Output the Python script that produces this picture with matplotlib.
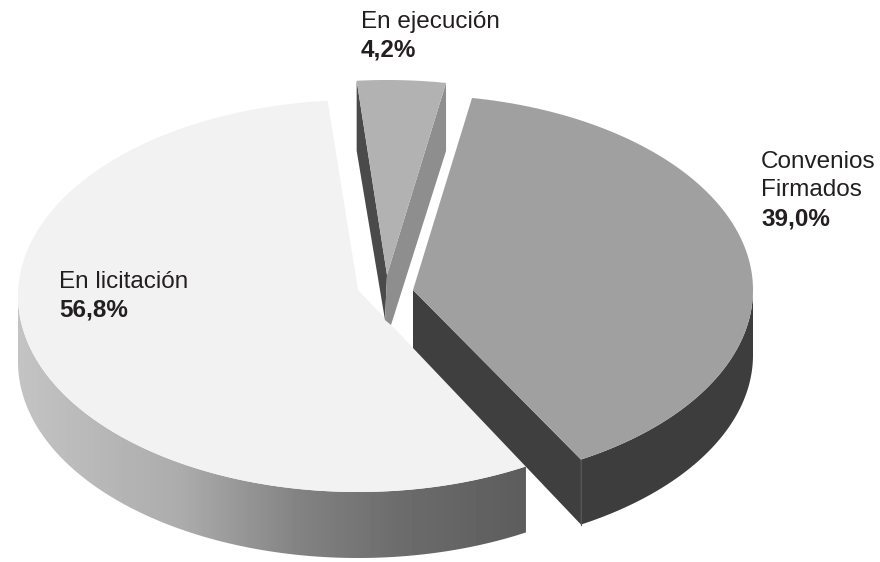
import numpy as np
import matplotlib
matplotlib.use("Agg")
import matplotlib.pyplot as plt
from matplotlib.patches import Polygon

plt.rcParams['font.family'] = ['Liberation Sans', 'DejaVu Sans']

# Slices, clockwise from the top
labels = ["Convenios\nFirmados", "En licitación", "En ejecución"]
values = [39.0, 56.8, 4.2]
value_labels = ["39,0%", "56,8%", "4,2%"]

START_ANGLE = 80.0
RX, RY = 340, 196
TEXT_COLOR = "#231f20"


# Points along the ellipse between two angles, in pixel coordinates
def arc(cx, cy, a0, a1, ry=RY):
    t = np.radians(np.linspace(a0, a1, 200))
    return np.column_stack([cx + RX * np.cos(t), cy - ry * np.sin(t)])


# Vertical gradient strip clipped to a polygon (for the curved wall)
def gradient_wall(ax, pts, stops_x, stops_gray):
    x = np.arange(0, 880)
    gray = np.interp(x, stops_x, stops_gray)
    img = ax.imshow(gray[np.newaxis, :], extent=(0, 880, 562, 0), cmap="gray",
                    vmin=0, vmax=255, aspect="auto", zorder=1)
    patch = Polygon(pts, closed=True, transform=ax.transData, fc="none", ec="none")
    ax.add_patch(patch)
    img.set_clip_path(patch)


fig = plt.figure(figsize=(8.8, 5.62), dpi=100)
ax = fig.add_axes([0, 0, 1, 1])

# Slice angles come straight from the values
sweeps = [v * 3.6 for v in values]
conv_a0, conv_a1 = START_ANGLE, START_ANGLE - sweeps[0]
lic_a0, lic_a1 = conv_a1, conv_a1 - sweeps[1]
eje_a0, eje_a1 = lic_a1, lic_a1 - sweeps[2]

# En licitación
cx, cy, depth = 358, 296, 66
rim = arc(cx, cy, -180, lic_a0)
wall = np.vstack([rim, rim[::-1] + [0, depth]])
gradient_wall(ax, wall, [18, 180, 300, 400, 528], [195, 172, 130, 108, 92])
top = np.vstack([[[358, 290]], arc(cx, cy, lic_a0, lic_a1)])
ax.add_patch(Polygon(top, closed=True, fc="#f2f2f3", ec="none", zorder=2))

# Convenios Firmados
cx, cy, depth = 413, 290, 65
rim = arc(cx, cy, conv_a1, 0, ry=195)
wall = np.vstack([rim, rim[::-1] + [0, depth]])
ax.add_patch(Polygon(wall, closed=True, fc="#3d3d3d", ec="none", zorder=3))
corner = rim[0]
cut = [(cx, cy), (cx, cy + 58), (corner[0], corner[1] + depth), corner]
ax.add_patch(Polygon(cut, closed=True, fc="#3f3f3f", ec="none", zorder=3))
ax.plot([corner[0], corner[0]], [corner[1], corner[1] + depth], color="#555555", lw=0.8, zorder=3)
top = np.vstack([[[cx, cy]], arc(cx, cy, conv_a0, conv_a1, ry=195)])
ax.add_patch(Polygon(top, closed=True, fc="#a0a0a0", ec="none", zorder=4))

# En ejecución, pulled out of the pie
cx, cy = 387, 275
rim = arc(cx, cy, eje_a0, eje_a1, ry=195)
left, right = rim[0], rim[-1]
if left[0] > right[0]:
    left, right = right, left
ax.add_patch(Polygon([left, (left[0], left[1] + 70), (385, 320), (cx, cy)],
                     closed=True, fc="#4a4a4a", ec="none", zorder=5))
ax.add_patch(Polygon([right, (right[0], right[1] + 68), (391, 325), (385, 320), (cx, cy)],
                     closed=True, fc="#8e8e8e", ec="none", zorder=5))
top = np.vstack([[[cx, cy]], rim])
ax.add_patch(Polygon(top, closed=True, fc="#b2b2b2", ec="none", zorder=6))

# Labels
label_pos = [(761, 162), (59, 282), (361, 22)]
line_h = 28.5
for lab, val, (x, y) in zip(labels, value_labels, label_pos):
    lines = lab.split("\n")
    for i, line in enumerate(lines):
        ax.text(x, y + i * line_h, line, fontsize=17.5, color=TEXT_COLOR,
                va="center", ha="left", zorder=10)
    ax.text(x, y + len(lines) * line_h, val, fontsize=17.5, fontweight="bold",
            color=TEXT_COLOR, va="center", ha="left", zorder=10)

ax.set_xlim(0, 880)
ax.set_ylim(562, 0)
ax.axis("off")

fig.savefig("out.png", dpi=100, facecolor="white")
